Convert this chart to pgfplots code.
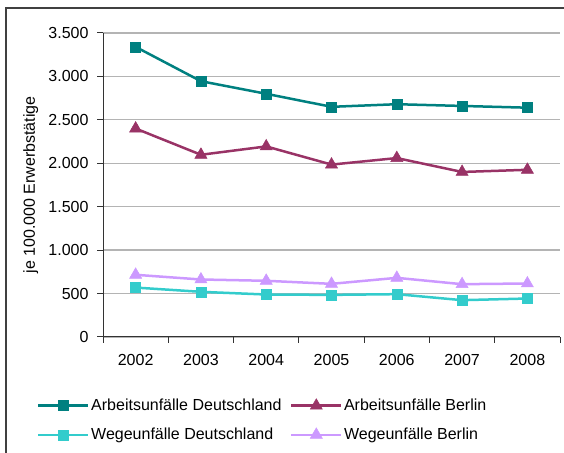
\documentclass[border=0pt]{standalone}
\usepackage{fontspec}
\setmainfont{Liberation Sans}
\usepackage{pgfplots}
\pgfplotsset{compat=1.18}
\definecolor{adt}{HTML}{008080}
\definecolor{abe}{HTML}{993366}
\definecolor{wdt}{HTML}{33CCCC}
\definecolor{wbe}{HTML}{CC99FF}
\definecolor{gridc}{HTML}{B4B4B4}
\begin{document}
\begin{tikzpicture}[x=1bp,y=1bp]
\path[use as bounding box] (0,0) rectangle (564,453);
\begin{scope}
\clip (0,0) rectangle (564,453);
\draw[line width=1.3bp, black!75] (6,-20) -- (6,445) -- (600,445);
\end{scope}
\begin{axis}[
  at={(103bp,116bp)}, anchor=south west,
  scale only axis, width=457bp, height=304bp,
  xmin=-0.5, xmax=6.5, ymin=0, ymax=3500,
  axis x line*=bottom, axis y line*=left,
  axis line style={line width=1bp, black!80},
  ytick={0,500,...,3500},
  ymajorgrids, grid style={line width=1.3bp, gridc},
  xtick={-0.5,0.5,...,6.5}, xticklabels={{},{},{},{},{},{},{},{}},
  extra x ticks={0,1,2,3,4,5,6},
  extra x tick labels={2002,2003,2004,2005,2006,2007,2008},
  extra x tick style={major tick length=0pt, grid=none, xticklabel style={yshift=-14bp}},
  tick align=outside, major tick length=6bp,
  tick style={line width=1bp, black!80},
  /pgf/number format/assume math mode=true,
  /pgf/number format/1000 sep={.},
  tick label style={font=\fontsize{16bp}{19bp}\selectfont},
  yticklabel style={xshift=-5bp},
  ylabel={je 100.000 Erwerbstätige},
  label style={font=\fontsize{16bp}{19bp}\selectfont},
  ylabel style={at={(axis description cs:-0.158,0.5)}, anchor=center},
  legend columns=2,
  legend cell align=left,
  legend style={draw=none, fill=none, inner sep=0pt,
    at={(-0.1444,-0.199)}, anchor=north west,
    font=\fontsize{16bp}{19bp}\selectfont,
    nodes={inner sep=1.5bp},
    row sep=13bp,
    /tikz/every even column/.append style={column sep=7bp}},
  legend image code/.code={\draw[mark repeat=2,mark phase=2] plot coordinates {(0bp,0bp) (25bp,0bp) (50bp,0bp)};},
  every axis plot/.append style={line width=2.5bp},
]
\addplot[adt, mark=square*, mark size=5bp, mark options={solid, fill=adt, draw=adt, line width=0.5bp}]
  coordinates {(0,3340) (1,2945) (2,2800) (3,2650) (4,2680) (5,2660) (6,2640)};
\addlegendentry{Arbeitsunfälle Deutschland}
\addplot[abe, mark=triangle*, mark size=7bp, mark options={solid, fill=abe, draw=abe, line width=0.5bp}]
  coordinates {(0,2400) (1,2098) (2,2194) (3,1985) (4,2060) (5,1900) (6,1925)};
\addlegendentry{Arbeitsunfälle Berlin}
\addplot[wdt, mark=square*, mark size=5bp, mark options={solid, fill=wdt, draw=wdt, line width=0.5bp}]
  coordinates {(0,569) (1,520) (2,489) (3,485) (4,493) (5,424) (6,443)};
\addlegendentry{Wegeunfälle Deutschland}
\addplot[wbe, mark=triangle*, mark size=7bp, mark options={solid, fill=wbe, draw=wbe, line width=0.5bp}]
  coordinates {(0,716) (1,662) (2,647) (3,612) (4,681) (5,608) (6,616)};
\addlegendentry{Wegeunfälle Berlin}
\end{axis}
\end{tikzpicture}
\end{document}
